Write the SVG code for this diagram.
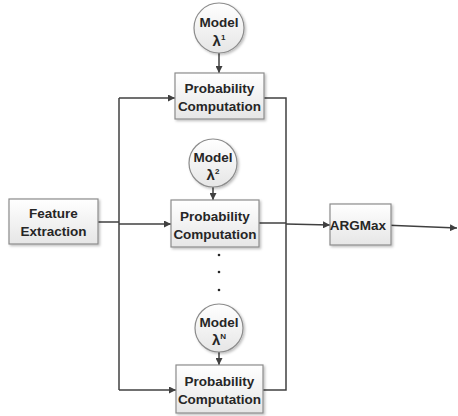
<svg xmlns="http://www.w3.org/2000/svg" width="458" height="416" viewBox="0 0 458 416">
<defs>
<linearGradient id="g" x1="0" y1="0" x2="0" y2="1">
<stop offset="0" stop-color="#ffffff"/>
<stop offset="1" stop-color="#e6e6e6"/>
</linearGradient>
<marker id="a" viewBox="0 0 10 10" refX="10" refY="5" markerWidth="7" markerHeight="7" orient="auto" markerUnits="userSpaceOnUse">
<path d="M0,0 L10,5 L0,10 z" fill="#404040"/>
</marker>
<filter id="s" x="-10%" y="-10%" width="130%" height="130%">
<feDropShadow dx="1.5" dy="1.5" stdDeviation="1" flood-color="#000" flood-opacity="0.25"/>
</filter>
</defs>
<style>
.n{fill:url(#g);stroke:#8c8c8c;stroke-width:1.2;filter:url(#s)}
.t{font-family:"Liberation Sans",Arial,sans-serif;font-weight:bold;font-size:13.5px;fill:#262626;text-anchor:middle}
.l{font-size:15px}
.c{fill:none;stroke:#404040;stroke-width:1.5}
.sup{font-size:8px}
</style>
<rect width="458" height="416" fill="#ffffff"/>
<g id="connectors">
<path class="c" d="M98,222 H119"/>
<path class="c" d="M119,98 V390"/>
<path class="c" d="M119,98 H175" marker-end="url(#a)"/>
<path class="c" d="M119,224 H171" marker-end="url(#a)"/>
<path class="c" d="M119,390 H176" marker-end="url(#a)"/>
<path class="c" d="M219,53 V73" marker-end="url(#a)"/>
<path class="c" d="M213,187 V200" marker-end="url(#a)"/>
<path class="c" d="M219,352 V365" marker-end="url(#a)"/>
<path class="c" d="M264,98 H286 V390 H263"/>
<path class="c" d="M259,223 H286"/>
<path class="c" d="M286,224 L330,225" marker-end="url(#a)"/>
<path class="c" d="M383,225 L457,228" marker-end="url(#a)"/>
</g>
<g id="feature">
<rect class="n" x="9" y="199" width="89" height="45"/>
<text class="t" x="53.5" y="218">Feature</text>
<text class="t" x="53.5" y="236">Extraction</text>
</g>
<g id="model1">
<circle class="n" cx="219" cy="28" r="25"/>
<text class="t" x="219" y="27">Model</text>
<text class="t l" x="219" y="46">λ<tspan class="sup" dy="-6">1</tspan></text>
</g>
<g id="prob1">
<rect class="n" x="175" y="73" width="89" height="46"/>
<text class="t" x="219.5" y="93">Probability</text>
<text class="t" x="219.5" y="111">Computation</text>
</g>
<g id="model2">
<circle class="n" cx="213" cy="163" r="24"/>
<text class="t" x="213" y="162">Model</text>
<text class="t l" x="213" y="180">λ<tspan class="sup" dy="-6">2</tspan></text>
</g>
<g id="prob2">
<rect class="n" x="171" y="200" width="88" height="47"/>
<text class="t" x="215" y="221">Probability</text>
<text class="t" x="215" y="239">Computation</text>
</g>
<g id="dots" fill="#262626">
<circle cx="219" cy="255" r="1.3"/>
<circle cx="219" cy="272" r="1.3"/>
<circle cx="219" cy="290" r="1.3"/>
</g>
<g id="modelN">
<circle class="n" cx="219" cy="328" r="24"/>
<text class="t" x="219" y="327">Model</text>
<text class="t l" x="219" y="345">λ<tspan class="sup" dy="-6">N</tspan></text>
</g>
<g id="probN">
<rect class="n" x="176" y="365" width="87" height="48"/>
<text class="t" x="219.5" y="386">Probability</text>
<text class="t" x="219.5" y="404">Computation</text>
</g>
<g id="argmax">
<rect class="n" x="330" y="204" width="61" height="41"/>
<text class="t" x="358" y="230">ARGMax</text>
</g>
</svg>
